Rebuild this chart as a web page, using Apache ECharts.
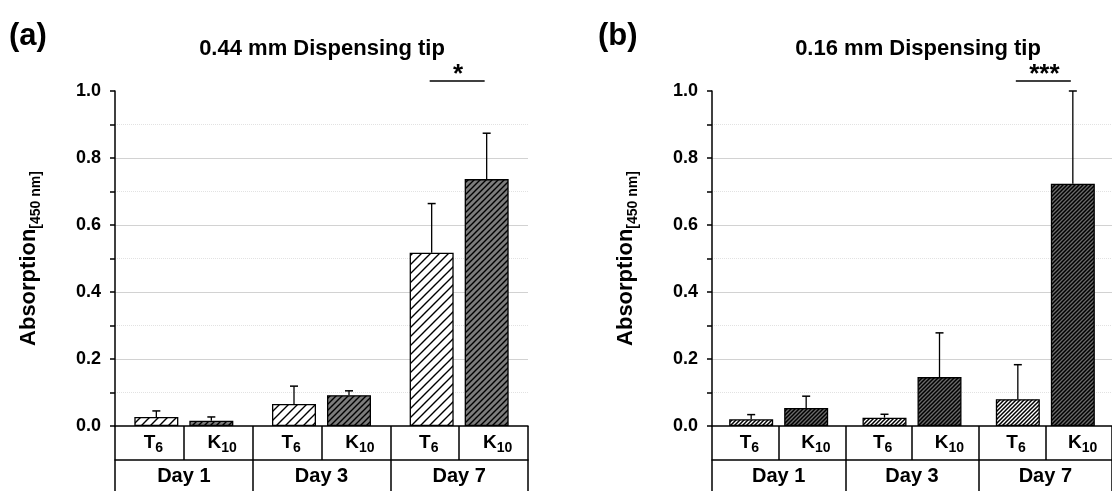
<!DOCTYPE html>
<html>
<head>
<meta charset="utf-8">
<script src="https://cdn.jsdelivr.net/npm/echarts@6/dist/echarts.min.js"></script>
<style>
  html, body { margin: 0; padding: 0; background: #fff; }
  #chart { width: 1112px; height: 491px; }
</style>
</head>
<body>
<div id="chart"></div>
<script>
// categories
const days = ['Day 1', 'Day 3', 'Day 7'];
const subCats = ['T6', 'K10', 'T6', 'K10', 'T6', 'K10'];
const yTicks = [0, 0.2, 0.4, 0.6, 0.8, 1.0];

// (a) 0.44 mm dispensing tip: mean and sd per day
const tipA_T6 = [0.027, 0.066, 0.517];
const tipA_T6_sd = [0.018, 0.053, 0.147];
const tipA_K10 = [0.016, 0.092, 0.737];
const tipA_K10_sd = [0.011, 0.013, 0.137];

// (b) 0.16 mm dispensing tip
const tipB_T6 = [0.020, 0.025, 0.080];
const tipB_T6_sd = [0.014, 0.010, 0.103];
const tipB_K10 = [0.054, 0.146, 0.723];
const tipB_K10_sd = [0.035, 0.132, 0.277];

// significance bracket (day index, level, label)
const sigA = [2, 1.03, '*'];
const sigB = [2, 1.03, '***'];

const FONT = '"Liberation Sans", Arial, sans-serif';
const BAR_W = 44;
const BAR_SHIFT = 27.5; // half of bar width + gap

const chart = echarts.init(document.getElementById('chart'));

// diagonal hatch fill
const hatch = (bg, size, lw) => {
  const c = document.createElement('canvas');
  c.width = c.height = size;
  const g = c.getContext('2d');
  g.fillStyle = bg;
  g.fillRect(0, 0, size, size);
  g.strokeStyle = '#000';
  g.lineWidth = lw;
  g.beginPath();
  g.moveTo(-1, size + 1); g.lineTo(size + 1, -1);
  g.moveTo(-1, 1); g.lineTo(1, -1);
  g.moveTo(size - 1, size + 1); g.lineTo(size + 1, size - 1);
  g.stroke();
  return { image: c, repeat: 'repeat' };
};

const subLabel = v => v.charAt(0) + '{s|' + v.slice(1) + '}';

const xAxesFor = gi => [
  {
    // day row
    type: 'category', gridIndex: gi, data: days, position: 'bottom',
    axisLine: { show: true, onZero: false, lineStyle: { color: '#000', width: 1.5 } },
    axisTick: { show: true, interval: 0, length: 70, lineStyle: { color: '#000', width: 1.5 } },
    axisLabel: { interval: 0, margin: 40, fontSize: 20, fontWeight: 'bold', color: '#000', fontFamily: FONT },
    splitLine: { show: false }
  },
  {
    // T6 / K10 row
    type: 'category', gridIndex: gi, data: subCats, position: 'bottom',
    axisLine: { show: false },
    axisTick: { show: true, interval: 0, length: 34, lineStyle: { color: '#000', width: 1.5 } },
    axisLabel: {
      interval: 0, margin: 5, fontSize: 19, fontWeight: 'bold', color: '#000', fontFamily: FONT,
      lineHeight: 24, padding: [0, 0, 0, 8],
      formatter: subLabel,
      rich: { s: { fontSize: 14, fontWeight: 'bold', color: '#000', fontFamily: FONT, verticalAlign: 'bottom', lineHeight: 14 } }
    },
    splitLine: { show: false }
  },
  {
    // line under the T6 / K10 row
    type: 'category', gridIndex: gi, data: subCats, position: 'bottom', offset: 34,
    axisLine: { show: true, onZero: false, lineStyle: { color: '#000', width: 1.5 } },
    axisTick: { show: false },
    axisLabel: { show: false },
    splitLine: { show: false }
  }
];

const yAxisFor = gi => ({
  type: 'value', gridIndex: gi,
  min: yTicks[0], max: yTicks[yTicks.length - 1], interval: yTicks[1] - yTicks[0],
  name: 'Absorption{sub|[450 nm]}', nameLocation: 'middle', nameRotate: 90, nameGap: 72,
  nameTextStyle: {
    fontSize: 22, fontWeight: 'bold', color: '#000', fontFamily: FONT, lineHeight: 28,
    rich: { sub: { fontSize: 14, fontWeight: 'bold', color: '#000', fontFamily: FONT, verticalAlign: 'bottom', lineHeight: 14 } }
  },
  axisLine: { show: true, lineStyle: { color: '#000', width: 1.5 } },
  axisTick: { show: true, length: 5, lineStyle: { color: '#000', width: 1.5 } },
  minorTick: { show: true, splitNumber: 2, length: 5, lineStyle: { color: '#000', width: 1.5 } },
  axisLabel: { margin: 14, fontSize: 18, fontWeight: 'bold', color: '#000', fontFamily: FONT, formatter: v => v.toFixed(1) },
  splitLine: { show: true, showMaxLine: false, showMinLine: false, lineStyle: { color: '#d2d2d2', width: 1 } },
  minorSplitLine: { show: true, lineStyle: { color: '#e2e2e2', width: 1, type: 'dotted' } }
});

const barSeries = (xi, yi, data, fill, gap) => ({
  type: 'bar', xAxisIndex: xi, yAxisIndex: yi, data: data,
  barWidth: BAR_W, barGap: gap,
  itemStyle: { color: fill, borderColor: '#000', borderWidth: 1.3 },
  emphasis: { disabled: true },
  silent: true
});

const errSeries = (xi, yi, means, sds, shift) => ({
  type: 'custom', xAxisIndex: xi, yAxisIndex: yi, z: 5, silent: true,
  data: means.map((m, i) => [i, m, m + sds[i]]),
  renderItem: (params, api) => {
    const p0 = api.coord([api.value(0), api.value(1)]);
    const p1 = api.coord([api.value(0), api.value(2)]);
    const x = p0[0] + shift;
    return {
      type: 'group', children: [
        { type: 'line', shape: { x1: x, y1: p0[1], x2: x, y2: p1[1] }, style: { stroke: '#000', lineWidth: 1.3 } },
        { type: 'line', shape: { x1: x - 4, y1: p1[1], x2: x + 4, y2: p1[1] }, style: { stroke: '#000', lineWidth: 1.5 } }
      ]
    };
  }
});

const sigSeries = (xi, yi, sig) => ({
  type: 'custom', xAxisIndex: xi, yAxisIndex: yi, z: 6, silent: true, clip: false,
  data: [[sig[0], sig[1]]],
  renderItem: (params, api) => {
    const p = api.coord([api.value(0), api.value(1)]);
    return {
      type: 'group', children: [
        { type: 'line', shape: { x1: p[0] - BAR_SHIFT - 2, y1: p[1], x2: p[0] + BAR_SHIFT - 2, y2: p[1] }, style: { stroke: '#000', lineWidth: 1.5 } },
        { type: 'text', x: p[0] - 1, y: p[1] - 6, style: { text: sig[2], font: 'bold 26px ' + FONT, fill: '#000', align: 'center', verticalAlign: 'middle', textAlign: 'center', textVerticalAlign: 'middle' } }
      ]
    };
  }
});

const textEl = (x, y, text, size, align) => ({
  type: 'text', x: x, y: y,
  style: { text: text, font: 'bold ' + size + 'px ' + FONT, fill: '#000', align: align, verticalAlign: 'middle', textAlign: align, textVerticalAlign: 'middle' }
});

const option = {
  animation: false,
  backgroundColor: '#fff',
  grid: [
    { left: 115, top: 91, width: 413, height: 335 },
    { left: 712, top: 91, width: 413, height: 335 }
  ],
  xAxis: [...xAxesFor(0), ...xAxesFor(1)],
  yAxis: [yAxisFor(0), yAxisFor(1)],
  graphic: [
    textEl(9, 36, '(a)', 31, 'left'),
    textEl(598, 36, '(b)', 31, 'left'),
    textEl(322, 49, '0.44 mm Dispensing tip', 22, 'center'),
    textEl(918, 49, '0.16 mm Dispensing tip', 22, 'center')
  ],
  series: [
    barSeries(0, 0, tipA_T6, hatch('#ffffff', 9, 1.4), '25%'),
    barSeries(0, 0, tipA_K10, hatch('#7c7c7c', 6, 1.4), '25%'),
    errSeries(0, 0, tipA_T6, tipA_T6_sd, -BAR_SHIFT),
    errSeries(0, 0, tipA_K10, tipA_K10_sd, BAR_SHIFT),
    sigSeries(0, 0, sigA),
    barSeries(3, 1, tipB_T6, hatch('#ffffff', 4, 1.5), '25%'),
    barSeries(3, 1, tipB_K10, hatch('#6a6a6a', 4, 1.5), '25%'),
    errSeries(3, 1, tipB_T6, tipB_T6_sd, -BAR_SHIFT),
    errSeries(3, 1, tipB_K10, tipB_K10_sd, BAR_SHIFT),
    sigSeries(3, 1, sigB)
  ]
};

chart.setOption(option);
</script>
</body>
</html>
